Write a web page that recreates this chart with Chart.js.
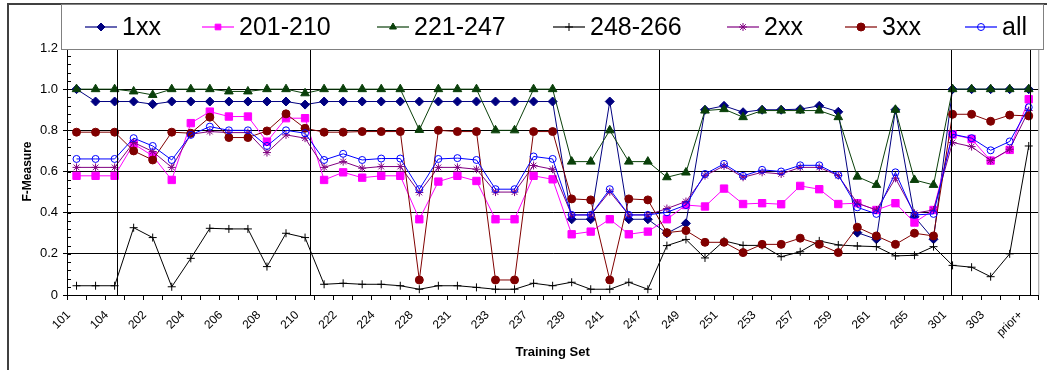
<!DOCTYPE html>
<html>
<head>
<meta charset="utf-8">
<script src="https://cdn.jsdelivr.net/npm/chart.js"></script>
<style>
  html, body { margin: 0; padding: 0; background: #fff; }
  #wrap { width: 1047px; height: 370px; }
</style>
</head>
<body>
<div id="wrap"><canvas id="chart" width="1047" height="370"></canvas></div>
<script>
const categories = ['101', '102', '104', '201', '202', '203', '204', '205', '206', '207', '208', '209', '210',
  '221', '222', '223', '224', '226', '228', '229', '231', '232', '233', '234', '237', '238', '239', '240', '241', '243', '247',
  '248', '249', '250', '251', '252', '253', '254', '257', '258', '259', '260', '261', '262', '265', '266',
  '301', '302', '303', '304', 'prior+'];

const s1xx = [1.0, 0.94, 0.94, 0.94, 0.927, 0.94, 0.94, 0.94, 0.94, 0.94, 0.94, 0.94, 0.925,
  0.94, 0.94, 0.94, 0.94, 0.94, 0.94, 0.94, 0.94, 0.94, 0.94, 0.94, 0.94, 0.94, 0.368, 0.368, 0.94, 0.368, 0.368,
  0.30, 0.348, 0.90, 0.919, 0.888, 0.90, 0.90, 0.903, 0.919, 0.89, 0.303, 0.271, 0.90, 0.38, 0.271,
  1.0, 1.0, 1.0, 1.0, 1.0];
const s201 = [0.579, 0.579, 0.579, 0.734, 0.676, 0.559, 0.835, 0.891, 0.867, 0.867, 0.745, 0.859, 0.859,
  0.559, 0.596, 0.57, 0.579, 0.579, 0.368, 0.551, 0.579, 0.554, 0.368, 0.368, 0.579, 0.562, 0.295, 0.308, 0.368, 0.295, 0.308,
  0.368, 0.437, 0.43, 0.517, 0.442, 0.446, 0.441, 0.53, 0.514, 0.442, 0.446, 0.413, 0.446, 0.352, 0.413,
  0.78, 0.758, 0.653, 0.705, 0.951];
const s221 = [1.0, 1.0, 1.0, 0.989, 0.972, 1.0, 1.0, 1.0, 0.989, 0.989, 1.0, 1.0, 0.98,
  1.0, 1.0, 1.0, 1.0, 1.0, 0.802, 1.0, 1.0, 1.0, 0.80, 0.80, 1.0, 1.0, 0.648, 0.648, 0.80, 0.648, 0.648,
  0.572, 0.595, 0.896, 0.903, 0.864, 0.896, 0.896, 0.896, 0.896, 0.864, 0.575, 0.535, 0.90, 0.559, 0.535,
  1.0, 1.0, 1.0, 1.0, 1.0];
const s248 = [0.045, 0.045, 0.045, 0.327, 0.279, 0.04, 0.178, 0.324, 0.321, 0.321, 0.138, 0.30, 0.279,
  0.052, 0.057, 0.052, 0.052, 0.045, 0.028, 0.045, 0.045, 0.037, 0.028, 0.028, 0.057, 0.045, 0.062, 0.028, 0.028, 0.062, 0.028,
  0.24, 0.27, 0.18, 0.263, 0.241, 0.241, 0.186, 0.21, 0.263, 0.243, 0.238, 0.235, 0.19, 0.193, 0.235,
  0.144, 0.135, 0.089, 0.20, 0.724];
const s2xx = [0.62, 0.62, 0.62, 0.741, 0.697, 0.62, 0.781, 0.794, 0.789, 0.789, 0.692, 0.778, 0.762,
  0.62, 0.648, 0.616, 0.624, 0.624, 0.498, 0.62, 0.62, 0.611, 0.50, 0.50, 0.629, 0.611, 0.389, 0.389, 0.502, 0.389, 0.389,
  0.42, 0.454, 0.58, 0.627, 0.572, 0.596, 0.588, 0.62, 0.62, 0.58, 0.446, 0.413, 0.567, 0.397, 0.413,
  0.741, 0.721, 0.653, 0.708, 0.896];
const s3xx = [0.791, 0.791, 0.791, 0.70, 0.656, 0.791, 0.786, 0.864, 0.765, 0.765, 0.797, 0.88, 0.81,
  0.791, 0.791, 0.794, 0.794, 0.794, 0.073, 0.80, 0.794, 0.794, 0.073, 0.073, 0.794, 0.794, 0.467, 0.462, 0.073, 0.467, 0.462,
  0.303, 0.313, 0.256, 0.256, 0.206, 0.246, 0.246, 0.276, 0.246, 0.206, 0.329, 0.287, 0.246, 0.30, 0.287,
  0.878, 0.878, 0.844, 0.874, 0.87];
const sAll = [0.661, 0.661, 0.661, 0.762, 0.724, 0.656, 0.778, 0.818, 0.80, 0.80, 0.724, 0.80, 0.786,
  0.656, 0.686, 0.656, 0.663, 0.663, 0.514, 0.661, 0.665, 0.656, 0.514, 0.514, 0.673, 0.661, 0.389, 0.389, 0.514, 0.389, 0.389,
  0.402, 0.437, 0.588, 0.637, 0.579, 0.608, 0.60, 0.63, 0.63, 0.583, 0.426, 0.394, 0.596, 0.389, 0.394,
  0.781, 0.762, 0.703, 0.746, 0.912];

// group separators, as fractional category index
const separators = [2.14, 12.28, 30.59, 45.94, 50.05];

function series(label, data, color, style, radius, fill) {
  return {
    label: label,
    data: data,
    borderColor: color,
    backgroundColor: fill || color,
    borderWidth: 1,
    pointStyle: style,
    pointRadius: radius,
    pointHoverRadius: radius,
    pointBorderWidth: 1,
    pointBackgroundColor: fill || color,
    pointBorderColor: color,
    tension: 0
  };
}

const datasets = [
  series('1xx', s1xx, '#000080', 'rectRot', 4.5),
  series('201-210', s201, '#ff00ff', 'rect', 5.2),
  series('221-247', s221, '#0a400a', 'triangle', 5),
  series('248-266', s248, '#000000', 'cross', 4),
  series('2xx', s2xx, '#800080', 'star', 4),
  series('3xx', s3xx, '#800000', 'circle', 4),
  series('all', sAll, '#0000ff', 'circle', 3.5, 'rgba(0,0,0,0)')
];
datasets.forEach((d, i) => { d.order = datasets.length - i; });

const decor = {
  id: 'decor',
  afterDatasetsDraw(chart) {
    const ctx = chart.ctx;
    const xs = chart.scales.x, ys = chart.scales.y;
    const a = chart.chartArea;
    const step = xs.getPixelForValue(1) - xs.getPixelForValue(0);
    const x0 = xs.getPixelForValue(0);
    ctx.save();
    ctx.strokeStyle = '#000';
    ctx.lineWidth = 1;
    separators.forEach(f => {
      const x = Math.round(x0 + f * step) + 0.5;
      ctx.beginPath(); ctx.moveTo(x, a.top); ctx.lineTo(x, a.bottom); ctx.stroke();
    });
    // minor ticks on y axis, inside
    for (let v = 0; v <= 1.2001; v += 0.04) {
      const y = Math.round(ys.getPixelForValue(v)) + 0.5;
      ctx.beginPath(); ctx.moveTo(a.left, y); ctx.lineTo(a.left + 4, y); ctx.stroke();
    }
    // right border of plot
    ctx.strokeStyle = '#999';
    ctx.beginPath(); ctx.moveTo(a.right + 0.5, a.top); ctx.lineTo(a.right + 0.5, a.bottom); ctx.stroke();
    ctx.restore();
  },
  afterDraw(chart) {
    const ctx = chart.ctx;
    ctx.save();
    // outer frame
    ctx.strokeStyle = '#404040';
    ctx.lineWidth = 2;
    ctx.beginPath(); ctx.moveTo(8, 370); ctx.lineTo(8, 4); ctx.lineTo(1047, 4); ctx.stroke();
    // legend box
    ctx.fillStyle = '#fff';
    ctx.fillRect(62, 5, 982, 45);
    ctx.strokeStyle = '#808080';
    ctx.lineWidth = 1;
    ctx.strokeRect(61.5, 4.5, 982, 45);
    const starts = [85, 202, 377, 553, 727, 845, 965];
    const cy = 27;
    ctx.font = '25px "Liberation Sans", Arial, sans-serif';
    ctx.textBaseline = 'middle';
    chart.data.datasets.forEach((d, i) => {
      const x = starts[i];
      ctx.globalAlpha = 0.6;
      ctx.strokeStyle = d.borderColor;
      ctx.lineWidth = 2;
      ctx.beginPath(); ctx.moveTo(x, cy); ctx.lineTo(x + 32, cy); ctx.stroke();
      ctx.globalAlpha = 1;
      ctx.lineWidth = 1;
      ctx.fillStyle = d.pointBackgroundColor;
      Chart.helpers.drawPoint(ctx, { pointStyle: d.pointStyle, radius: Math.min(d.pointRadius, 4), borderWidth: 1 }, x + 16, cy);
      ctx.fillStyle = '#000';
      ctx.fillText(d.label, x + 37, cy + 1);
    });
    ctx.restore();
  }
};

new Chart(document.getElementById('chart'), {
  type: 'line',
  data: { labels: categories, datasets: datasets },
  options: {
    responsive: false,
    animation: false,
    events: [],
    layout: { padding: { left: 10, right: 8, top: 48, bottom: 0 } },
    plugins: { legend: { display: false }, tooltip: { enabled: false } },
    font: { family: '"Liberation Sans", Arial, sans-serif' },
    scales: {
      x: {
        offset: true,
        grid: { offset: true, drawOnChartArea: false, tickLength: 5, tickColor: '#000' },
        border: { color: '#000' },
        ticks: {
          autoSkip: false, minRotation: 45, maxRotation: 45, color: '#000',
          padding: 8, labelOffset: -8,
          font: { family: '"Liberation Sans", Arial, sans-serif', size: 12 },
          callback: (v, i) => (i % 2 ? '' : categories[i])
        },
        title: {
          display: true, text: 'Training Set', color: '#000',
          font: { family: '"Liberation Sans", Arial, sans-serif', size: 13, weight: 'bold' },
          padding: { top: 0, bottom: 10 }
        },
        afterFit: s => { s.height = 75; }
      },
      y: {
        min: 0, max: 1.2,
        grid: { color: '#000', tickLength: 4, tickColor: '#000' },
        border: { color: '#000' },
        ticks: {
          stepSize: 0.2, color: '#000', padding: 5,
          font: { family: '"Liberation Sans", Arial, sans-serif', size: 13 }
        },
        title: {
          display: true, text: 'F-Measure', color: '#000',
          font: { family: '"Liberation Sans", Arial, sans-serif', size: 12, weight: 'bold' },
          padding: { top: 10 }
        },
        afterFit: s => { s.width = 57; }
      }
    }
  },
  plugins: [decor]
});
</script>
</body>
</html>
